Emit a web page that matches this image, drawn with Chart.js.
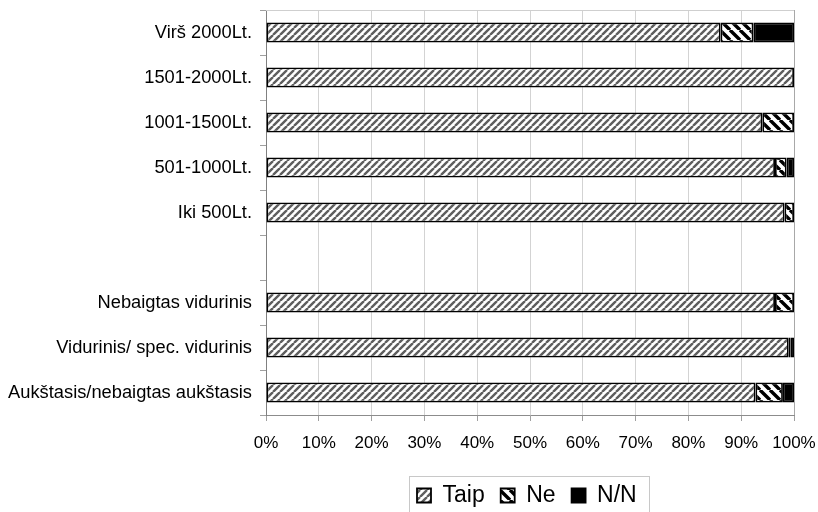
<!DOCTYPE html>
<html>
<head>
<meta charset="utf-8">
<script src="https://cdn.jsdelivr.net/npm/chart.js@4/dist/chart.umd.min.js"></script>
<style>
  html, body { margin: 0; padding: 0; background: #ffffff; }
  #c { display: block; }
</style>
</head>
<body>
<canvas id="c" width="818" height="512"></canvas>
<script>
// Income groups, a spacer row, then education levels (top to bottom)
const categories = [
  'Virš 2000Lt.',
  '1501-2000Lt.',
  '1001-1500Lt.',
  '501-1000Lt.',
  'Iki 500Lt.',
  '',
  'Nebaigtas vidurinis',
  'Vidurinis/ spec. vidurinis',
  'Aukštasis/nebaigtas aukštasis'
];

// Shares of answers, percent
const taip = [86.1, 100, 94.0, 96.4, 98.2, null, 96.4, 99.0, 92.7];
const ne   = [6.2,  0,   6.0,  2.2,  1.8,  null, 3.6,  0.3,  5.2];
const nn   = [7.7,  0,   0,    1.4,  0,    null, 0,    0.7,  2.1];

const seriesNames = ['Taip', 'Ne', 'N/N'];
const xTicks = [0, 10, 20, 30, 40, 50, 60, 70, 80, 90, 100];

// Hatch fills
function hatch(size, color, width, forward) {
  const cv = document.createElement('canvas');
  cv.width = size; cv.height = size;
  const g = cv.getContext('2d');
  g.fillStyle = '#ffffff';
  g.fillRect(0, 0, size, size);
  g.strokeStyle = color;
  g.lineWidth = width;
  g.beginPath();
  for (let k = -1; k <= 1; k++) {
    if (forward) {
      g.moveTo(k * size, size); g.lineTo(k * size + size, 0);
    } else {
      g.moveTo(k * size, 0); g.lineTo(k * size + size, size);
    }
  }
  g.stroke();
  return document.getElementById('c').getContext('2d').createPattern(cv, 'repeat');
}

const fillTaip = hatch(7, '#5e5e5e', 2.4, true);
const fillNe = hatch(10, '#000000', 3.4, false);
const fillNN = '#000000';

const FONT = "'Liberation Sans', Arial, Helvetica, sans-serif";
Chart.defaults.font.family = FONT;
Chart.defaults.color = '#000000';

// Plot frame, legend placement and legend border
const framePlugin = {
  id: 'frame',
  afterLayout(chart) {
    const lg = chart.legend;
    if (!lg || !lg.lineWidths) return;
    const pad = lg.options.labels.padding;
    const lw = lg.lineWidths[0];
    const w = lg.right - lg.left;
    const startX = 417;
    const L = (2 * startX - w - pad + lw) / 2;
    lg.left = L; lg.right = L + w;
    lg.top += 5; lg.bottom += 5;
    lg._frameStart = startX;
    lg._frameEnd = startX + lw - pad;
  },
  afterDraw(chart) {
    const ctx = chart.ctx;
    const a = chart.chartArea;
    ctx.save();
    ctx.strokeStyle = '#cfcfcf';
    ctx.lineWidth = 1;
    ctx.beginPath();
    ctx.moveTo(a.left, Math.round(a.top) + 0.5);
    ctx.lineTo(a.right, Math.round(a.top) + 0.5);
    ctx.stroke();
    const lg = chart.legend;
    if (lg && lg._frameStart) {
      const x0 = Math.round(lg._frameStart - 8) + 0.5;
      const x1 = Math.round(lg._frameEnd + 12) + 0.5;
      ctx.strokeStyle = '#c8c8c8';
      ctx.strokeRect(x0, 476.5, x1 - x0, 60);
    }
    ctx.restore();
  }
};

new Chart(document.getElementById('c'), {
  type: 'bar',
  data: {
    labels: categories,
    datasets: [
      { label: seriesNames[0], data: taip, backgroundColor: fillTaip },
      { label: seriesNames[1], data: ne, backgroundColor: fillNe },
      { label: seriesNames[2], data: nn, backgroundColor: fillNN }
    ].map(d => Object.assign(d, {
      borderColor: '#000000',
      borderWidth: 1.8,
      borderSkipped: false,
      categoryPercentage: 1,
      barPercentage: 0.444
    }))
  },
  options: {
    indexAxis: 'y',
    responsive: false,
    devicePixelRatio: 1,
    animation: false,
    layout: { padding: { top: 10, right: 24, left: 0, bottom: 0 } },
    plugins: {
      tooltip: { enabled: false },
      legend: {
        position: 'bottom',
        labels: {
          font: { size: 23 },
          boxWidth: 14,
          boxHeight: 14,
          padding: 16,
          color: '#000000'
        }
      }
    },
    scales: {
      x: {
        stacked: true,
        min: 0,
        max: 100,
        afterBuildTicks(scale) {
          scale.ticks = xTicks.map(v => ({ value: v }));
        },
        afterFit(scale) {
          scale.height = 48;
          scale.paddingLeft = 0;
          scale.paddingRight = 0;
        },
        ticks: {
          callback: v => v + '%',
          font: { size: 17 },
          padding: 12,
          maxRotation: 0,
          color: '#000000'
        },
        grid: {
          color: ctx => (ctx.tick && ctx.tick.value === 100) ? '#a8a8a8' : '#d3d3d3',
          tickColor: '#a0a0a0',
          tickLength: 6,
          lineWidth: 1
        },
        border: { color: '#8c8c8c', width: 1 }
      },
      y: {
        stacked: true,
        afterFit(scale) {
          scale.width = 266;
          scale.paddingTop = 0;
          scale.paddingBottom = 0;
        },
        ticks: {
          font: { size: 18.3 },
          padding: 8,
          autoSkip: false,
          color: '#000000'
        },
        grid: {
          drawOnChartArea: false,
          tickColor: '#a0a0a0',
          tickLength: 6
        },
        border: { color: '#808080', width: 1 }
      }
    }
  },
  plugins: [framePlugin]
});
</script>
</body>
</html>
